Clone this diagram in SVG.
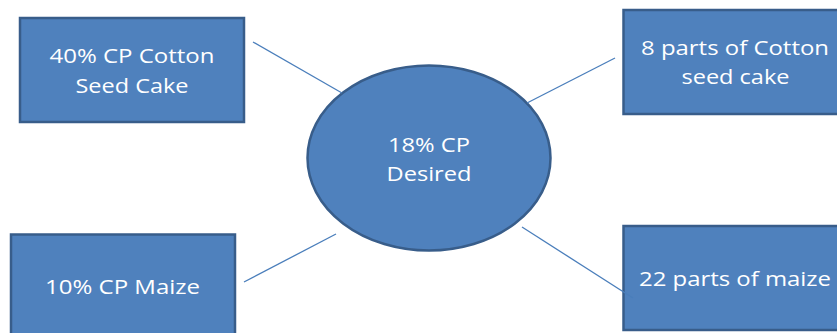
<svg xmlns="http://www.w3.org/2000/svg" width="837" height="333" viewBox="0 0 837 333">
<style>
.node{fill:#4f81bd;stroke:#385d8a;stroke-width:2.5}
.lbl{font-family:"Open Sans","Liberation Sans",sans-serif;font-size:20px;fill:#ffffff;text-anchor:middle}
.conn{stroke:#4a7ebb;stroke-width:1.3;fill:none}
</style>
<rect width="837" height="333" fill="#ffffff"/>
<g id="n-cotton">
<rect class="node" x="20" y="18" width="224" height="104"/>
<text class="lbl" x="132" y="63" textLength="165" lengthAdjust="spacingAndGlyphs">40% CP Cotton</text>
<text class="lbl" x="132" y="93" textLength="113" lengthAdjust="spacingAndGlyphs">Seed Cake</text>
</g>
<g id="n-parts-cotton">
<rect class="node" x="623.5" y="10" width="224" height="104"/>
<text class="lbl" x="735" y="55" textLength="188" lengthAdjust="spacingAndGlyphs">8 parts of Cotton</text>
<text class="lbl" x="735.5" y="84" textLength="108" lengthAdjust="spacingAndGlyphs">seed cake</text>
</g>
<g id="n-maize">
<rect class="node" x="11" y="234.5" width="224" height="104"/>
<text class="lbl" x="122.5" y="294" textLength="155" lengthAdjust="spacingAndGlyphs">10% CP Maize</text>
</g>
<g id="n-parts-maize">
<rect class="node" x="623.5" y="226" width="224" height="104"/>
<text class="lbl" x="735" y="286" textLength="192" lengthAdjust="spacingAndGlyphs">22 parts of maize</text>
</g>
<g id="n-desired">
<ellipse class="node" cx="429" cy="158" rx="121.5" ry="92.5"/>
<text class="lbl" x="429" y="151.7" textLength="82" lengthAdjust="spacingAndGlyphs">18% CP</text>
<text class="lbl" x="429" y="180.7" textLength="85" lengthAdjust="spacingAndGlyphs">Desired</text>
</g>
<g id="connectors">
<line class="conn" x1="253" y1="42" x2="342" y2="93"/>
<line class="conn" x1="527" y1="103" x2="615" y2="58"/>
<line class="conn" x1="336" y1="234" x2="244" y2="282"/>
<line class="conn" x1="522" y1="227" x2="633" y2="298"/>
</g>
</svg>
